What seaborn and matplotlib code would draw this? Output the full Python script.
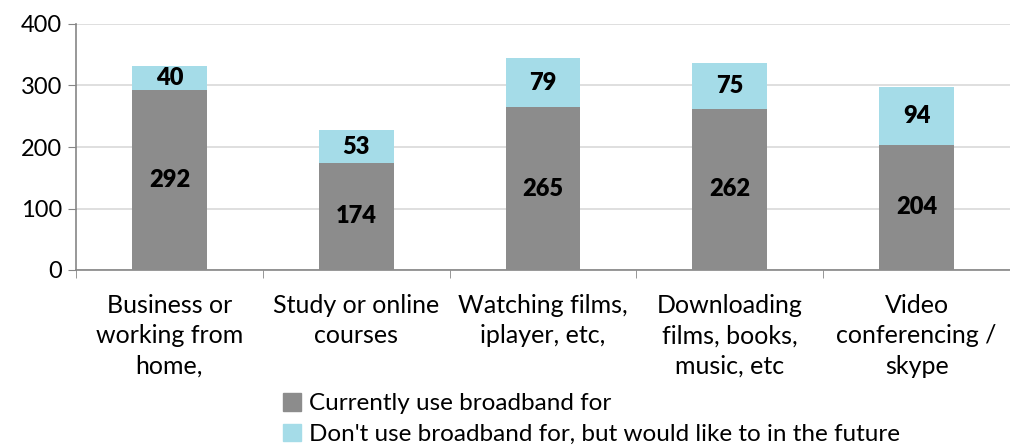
import matplotlib
matplotlib.use("Agg")
import matplotlib.pyplot as plt
import numpy as np
import pandas as pd
import seaborn as sns
from matplotlib.patches import Patch

# ---- data ----
categories = [
    "Business or\nworking from\nhome,",
    "Study or online\ncourses",
    "Watching films,\niplayer, etc,",
    "Downloading\nfilms, books,\nmusic, etc",
    "Video\nconferencing /\nskype",
]
current_use = [292, 174, 265, 262, 204]
would_like = [40, 53, 79, 75, 94]
series_names = [
    "Currently use broadband for",
    "Don't use broadband for, but would like to in the future",
]

grey = "#8c8c8c"
blue = "#a5dce8"

df = pd.DataFrame({"category": categories, "current": current_use, "future": would_like})
df["total"] = df["current"] + df["future"]

sns.set_style("white")
plt.rcParams["font.family"] = ["Lato", "DejaVu Sans"]
plt.rcParams["text.color"] = "black"

fig = plt.figure(figsize=(10.1, 4.46), dpi=100)
ax = fig.add_axes([76 / 1010, 1 - 270 / 446, 1 - 76 / 1010, (270 - 24) / 446])

# total first (blue), grey part drawn over it
sns.barplot(data=df, x="category", y="total", color=blue, width=0.4, saturation=1,
            ax=ax, zorder=2)
sns.barplot(data=df, x="category", y="current", color=grey, width=0.4, saturation=1,
            ax=ax, zorder=3)
for p in ax.patches:
    p.set_linewidth(0)

for i, row in df.iterrows():
    ax.text(i, row["current"] / 2, str(row["current"]), ha="center", va="center",
            fontsize=17, fontweight="heavy", zorder=4)
    ax.text(i, row["current"] + row["future"] / 2, str(row["future"]), ha="center",
            va="center", fontsize=17, fontweight="heavy", zorder=4)

ax.set_ylim(0, 400)
ax.set_yticks([0, 100, 200, 300, 400])
ax.set_xlim(-0.5, 4.5 - 10 / 189)
ax.yaxis.grid(True, color="#d9d9d9", linewidth=1.2, zorder=0)
ax.set_axisbelow(True)
ax.set_xlabel("")
ax.set_ylabel("")

for s in ["top", "right"]:
    ax.spines[s].set_visible(False)
for s in ["left", "bottom"]:
    ax.spines[s].set_color("#868686")
    ax.spines[s].set_linewidth(1.2)

ax.tick_params(axis="y", labelsize=17, labelcolor="black", length=6, color="#868686",
               left=True, pad=4)
ax.set_xticks(range(len(categories)))
ax.set_xticklabels(categories, fontsize=18, linespacing=1.4, color="black")
ax.tick_params(axis="x", length=0, pad=17)
# category boundary ticks
ax.set_xticks(np.arange(-0.5, len(categories), 1.0), minor=True)
ax.tick_params(axis="x", which="minor", length=6, color="#868686", bottom=True)

handles = [Patch(color=grey), Patch(color=blue)]
fig.legend(handles, series_names, loc="upper left", bbox_to_anchor=(283 / 1010, 1 - 393 / 446),
           frameon=False, fontsize=17.5, handlelength=0.75, handleheight=0.75,
           handletextpad=0.3, labelspacing=0.38, borderpad=0, borderaxespad=0)

fig.savefig("out.png", dpi=100)
